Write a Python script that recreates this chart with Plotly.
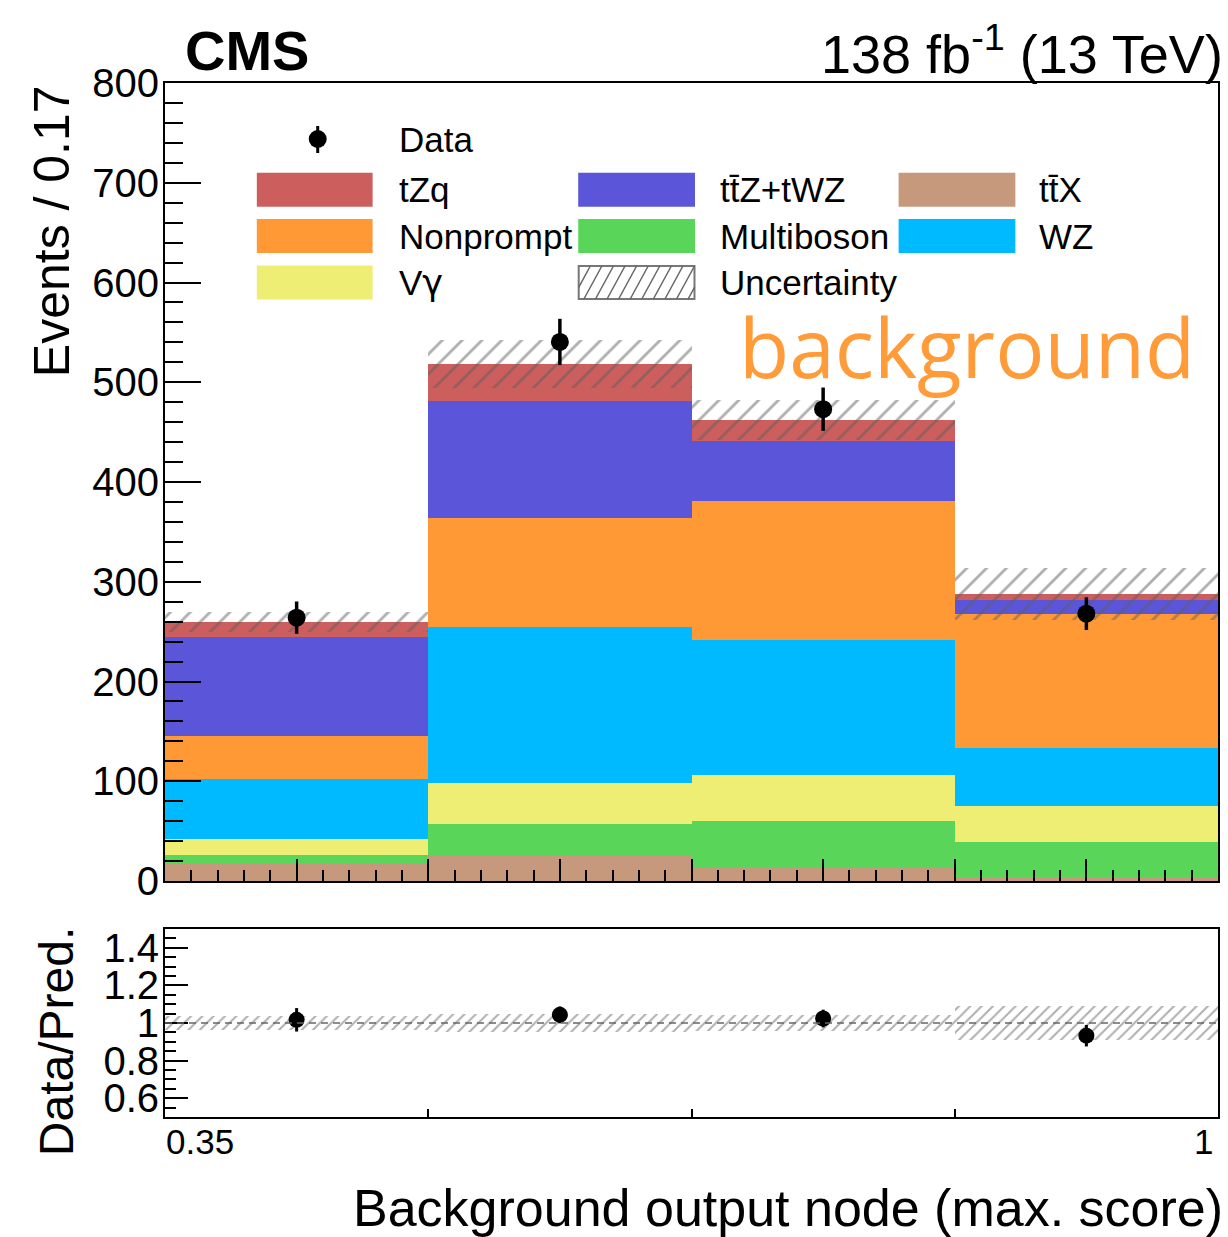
import plotly.graph_objects as go

# Binning of the background output node score
bin_edges = [0.35, 0.5125, 0.675, 0.8375, 1.0]

# Predicted yields per bin (stack order: bottom -> top)
ttx = [18.0, 25.0, 14.4, 4.0]
multiboson = [8.5, 31.8, 45.6, 35.0]
vgamma = [15.3, 41.2, 46.0, 36.2]
wz = [60.2, 157.0, 135.5, 57.8]
nonprompt = [43.0, 108.6, 139.2, 135.0]
ttz_twz = [99.6, 117.7, 60.3, 13.4]
tzq = [15.0, 36.7, 21.0, 6.0]

# Observed data and uncertainties
data = [264.0, 540.4, 473.0, 268.0]
data_err = [16.2, 23.2, 21.7, 16.4]
pred_unc = [10.0, 24.0, 20.0, 26.0]

GAMMA = '<span style="font-family:DejaVu Sans">\u03b3</span>'
process_names = ["tt\u0304X", "Multiboson", "V" + GAMMA, "WZ", "Nonprompt", "tt\u0304Z+tWZ", "tZq"]
process_yields = [ttx, multiboson, vgamma, wz, nonprompt, ttz_twz, tzq]
process_colors = ["#C6997D", "#59D55A", "#EEEE74", "#00BAFF", "#FF9935", "#5B55D9", "#CD5E5E"]

y_ticks_ratio = [0.6, 0.8, 1.0, 1.2, 1.4]
y_ticktext_ratio = ["0.6", "0.8", "1", "1.2", "1.4"]

centers = [(a + b) / 2 for a, b in zip(bin_edges[:-1], bin_edges[1:])]
widths = [b - a for a, b in zip(bin_edges[:-1], bin_edges[1:])]
total = [sum(p[i] for p in process_yields) for i in range(len(centers))]
ratio = [d / t for d, t in zip(data, total)]
ratio_err = [e / t for e, t in zip(data_err, total)]
ratio_unc = [u / t for u, t in zip(pred_unc, total)]

FONT = "Liberation Sans, Arial, Helvetica, sans-serif"
W, H = 1228, 1237
L, R, T, B = 165, 8, 83, 120
PW, PH = W - L - R, H - T - B


def px(x):
    return (x - L) / PW


def py(y):
    return (H - B - y) / PH


main_bottom = py(881)
ratio_top = py(929)

fig = go.Figure()

# Stacked background predictions
for name, vals, col in zip(process_names, process_yields, process_colors):
    fig.add_trace(go.Bar(
        x=centers, y=vals, width=widths, name=name,
        marker=dict(color=col, line=dict(width=0)),
        xaxis="x", yaxis="y",
    ))

# Total prediction uncertainty band
fig.add_trace(go.Bar(
    x=centers, y=[2 * u for u in pred_unc], base=[t - u for t, u in zip(total, pred_unc)],
    width=widths, name="Uncertainty",
    marker=dict(color="rgba(0,0,0,0)", line=dict(width=0),
                pattern=dict(shape="/", fgcolor="#5E5E5E", size=14, solidity=0.2, fillmode="overlay")),
    xaxis="x", yaxis="y",
))

# Data
fig.add_trace(go.Scatter(
    x=centers, y=data, mode="markers", name="Data",
    marker=dict(color="black", size=18),
    error_y=dict(type="data", array=data_err, color="black", thickness=3.5, width=0),
    xaxis="x", yaxis="y",
))

# Ratio panel: relative uncertainty band
fig.add_trace(go.Bar(
    x=centers, y=[2 * u for u in ratio_unc], base=[1 - u for u in ratio_unc],
    width=widths,
    marker=dict(color="rgba(0,0,0,0)", line=dict(width=0),
                pattern=dict(shape="/", fgcolor="#5E5E5E", size=8, solidity=0.25, fillmode="overlay")),
    xaxis="x2", yaxis="y2",
))

fig.add_trace(go.Scatter(
    x=centers, y=ratio, mode="markers",
    marker=dict(color="black", size=16),
    error_y=dict(type="data", array=ratio_err, color="black", thickness=3, width=0),
    xaxis="x2", yaxis="y2",
))

axis_common = dict(showline=True, linecolor="black", linewidth=2, mirror=True,
                   showgrid=False, zeroline=False, ticks="inside", tickcolor="black", tickwidth=2)

fig.update_layout(
    width=W, height=H,
    margin=dict(l=L, r=R, t=T, b=B),
    plot_bgcolor="white", paper_bgcolor="white",
    barmode="stack", bargap=0, showlegend=False,
    font=dict(family=FONT, color="black"),
    xaxis=dict(domain=[0, 1], anchor="y", range=[0.35, 1.0],
               tick0=0.35, dtick=0.08125, ticklen=22, showticklabels=False,
               minor=dict(ticks="inside", tick0=0.35, dtick=0.01625, ticklen=11,
                          tickwidth=2, tickcolor="black", showgrid=False),
               **axis_common),
    yaxis=dict(domain=[main_bottom, 1], anchor="x", range=[0, 800],
               tick0=0, dtick=100, ticklen=36, ticklabelstandoff=-4,
               tickfont=dict(size=40, family=FONT),
               minor=dict(ticks="inside", tick0=0, dtick=20, ticklen=18,
                          tickwidth=2, tickcolor="black", showgrid=False),
               **axis_common),
    xaxis2=dict(domain=[0, 1], anchor="y2", range=[0.35, 1.0],
                tickmode="array", tickvals=bin_edges[1:-1], ticklen=8, showticklabels=False,
                **axis_common),
    yaxis2=dict(domain=[0, ratio_top], anchor="x2", range=[0.5, 1.5],
                tickmode="array", tickvals=y_ticks_ratio, ticktext=y_ticktext_ratio, ticklen=23,
                ticklabelstandoff=-4,
                tickfont=dict(size=40, family=FONT),
                minor=dict(ticks="inside", tick0=0.5, dtick=0.05, ticklen=11,
                           tickwidth=2, tickcolor="black", showgrid=False),
                **axis_common),
)

shapes = []
# Reference line at unity in the ratio panel
shapes.append(dict(type="line", xref="x2", yref="y2", x0=0.35, x1=1.0, y0=1, y1=1,
                   line=dict(color="#666666", width=1.5, dash="7px,5px"), layer="above"))

annotations = []


def text(s, x, y, size, xanchor="left", yanchor="middle", angle=0, color="black", family=FONT):
    annotations.append(dict(text=s, x=px(x), y=py(y), xref="paper", yref="paper",
                            xanchor=xanchor, yanchor=yanchor, textangle=angle, showarrow=False,
                            font=dict(size=size, color=color, family=family)))


# Header texts
text("<b>CMS</b>", 183, 50, 56)
text("138 fb<sup>-1</sup> (13 TeV)", 1227, 50, 54, xanchor="right")

# Axis titles
text("Events / 0.17", 52, 83, 50, xanchor="center", yanchor="top", angle=-90)
text("Data/Pred.", 56, 1042, 48, xanchor="center", angle=-90)
text("Background output node (max. score)", 1227, 1208, 52, xanchor="right")
text("0.35", 164, 1141, 35)
text("1", 1205, 1141, 35, xanchor="center")

# Category label
text("background", 738, 346, 82, color="#FF9B38", family="Open Sans, Noto Sans, sans-serif")

# Legend
legend_rows = [189.7, 236.0, 282.5]
legend_cols = [(257, 373, 397), (579, 696, 719), (900, 1017, 1039)]
legend_entries = [
    (0, 0, "tZq", "#CD5E5E"), (0, 1, "tt\u0304Z+tWZ", "#5B55D9"), (0, 2, "tt\u0304X", "#C6997D"),
    (1, 0, "Nonprompt", "#FF9935"), (1, 1, "Multiboson", "#59D55A"), (1, 2, "WZ", "#00BAFF"),
    (2, 0, "V" + GAMMA, "#EEEE74"),
]
for r, c, label, col in legend_entries:
    yc = legend_rows[r]
    x0, x1, xt = legend_cols[c]
    shapes.append(dict(type="rect", xref="paper", yref="paper", x0=px(x0), x1=px(x1),
                       y0=py(yc + 17), y1=py(yc - 17), fillcolor=col, line=dict(width=0)))
    text(label, xt, yc, 35)

# Uncertainty legend key (hatched box)
ux0, ux1, uyt, uyb = 579.5, 695.5, 266.0, 299.0
shapes.append(dict(type="rect", xref="paper", yref="paper", x0=px(ux0), x1=px(ux1),
                   y0=py(uyb), y1=py(uyt), fillcolor="white", line=dict(color="#777777", width=2)))
dx = 18.0
a = ux0 - dx
while a < ux1:
    tmin = max(0.0, (ux0 - a) / dx)
    tmax = min(1.0, (ux1 - a) / dx)
    if tmin < tmax:
        xa, ya = a + tmin * dx, uyb + tmin * (uyt - uyb)
        xb, yb = a + tmax * dx, uyb + tmax * (uyt - uyb)
        shapes.append(dict(type="line", xref="paper", yref="paper",
                           x0=px(xa), y0=py(ya), x1=px(xb), y1=py(yb),
                           line=dict(color="#666666", width=1.5)))
    a += 11.6
text("Uncertainty", 719, 282.5, 35)

# Data legend key
shapes.append(dict(type="line", xref="paper", yref="paper", x0=px(318), x1=px(318),
                   y0=py(153), y1=py(126), line=dict(color="black", width=3)))
shapes.append(dict(type="circle", xref="paper", yref="paper", x0=px(309), x1=px(327),
                   y0=py(148), y1=py(130), fillcolor="black", line=dict(width=0)))
text("Data", 397, 139, 35)

fig.update_layout(shapes=shapes, annotations=annotations)

fig.write_html("out.html")
